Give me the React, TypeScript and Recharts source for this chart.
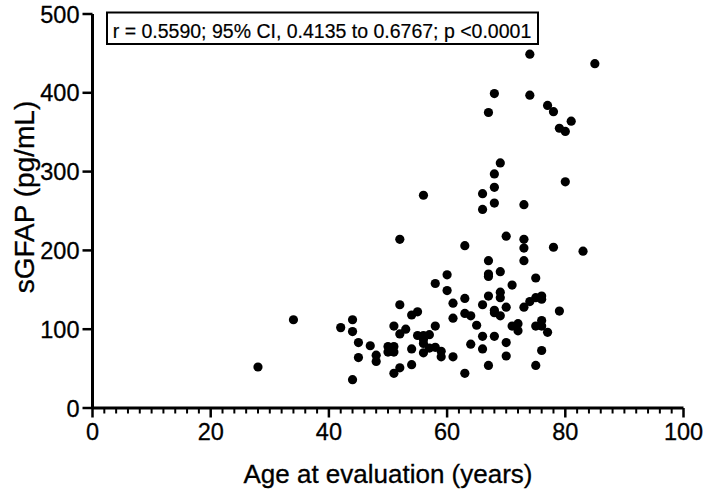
import React from 'react';
import { ScatterChart, Scatter, XAxis, YAxis } from 'recharts';

const ages: number[] = [
  28, 34, 42, 44, 44, 44, 45, 45, 47, 48, 48, 50, 50, 51, 51, 51, 51,
  52, 52, 52, 52, 53, 54, 54, 54, 55, 55, 56, 56, 56, 56, 56, 57, 57,
  58, 58, 58, 59, 59, 60, 60, 61, 61, 61, 63, 63, 63, 63, 64, 64, 65,
  66, 66, 66, 66, 66, 67, 67, 67, 67, 67, 67, 68, 68, 68, 68, 68, 68, 68,
  69, 69, 69, 69, 69, 70, 70, 70, 70, 71, 71, 72, 72, 73, 73, 73, 73, 73,
  74, 74, 74, 75, 75, 75, 75, 76, 76, 76, 76, 76, 77, 77, 78, 78, 79, 79,
  80, 80, 81, 83, 85,
];

const sgfap: number[] = [
  52, 112, 102, 112, 97, 36, 83, 64, 79, 67, 59, 78, 71, 78, 71, 104, 44,
  131, 214, 94, 51, 100, 118, 75, 55, 122, 92, 92, 87, 82, 70, 270, 93, 76,
  158, 104, 77, 72, 65, 169, 149, 133, 114, 65, 206, 139, 120, 44, 117, 81, 105,
  272, 252, 131, 91, 75, 375, 187, 170, 167, 142, 54, 399, 297, 280, 260, 124, 121, 91,
  311, 173, 147, 140, 117, 218, 128, 83, 66, 156, 104, 107, 98, 258, 214, 203, 187, 128,
  449, 397, 135, 165, 140, 104, 54, 142, 138, 111, 104, 73, 384, 96, 376, 204, 355, 123,
  351, 287, 364, 199, 437,
];

const xTicks: number[] = Array.from({ length: 51 }, (_, i) => i * 2);
const yTicks: number[] = [0, 100, 200, 300, 400, 500];

const xLabel = 'Age at evaluation (years)';
const yLabel = 'sGFAP (pg/mL)';
const statText = 'r = 0.5590; 95% CI, 0.4135 to 0.6767; p <0.0001';

const data = ages.map((a, i) => ({ age: a, val: sgfap[i] }));

const FONT = '"Liberation Sans", Arial, Helvetica, sans-serif';
const TICK_FS = 23.5;
const TITLE_FS = 26;
const YTITLE_FS = 28;

const XTick = (props: any) => {
  const { x, y, payload } = props;
  const v = payload.value as number;
  const major = v % 20 === 0;
  return (
    <g>
      <line x1={x} x2={x} y1={y} y2={y + (major ? 9.5 : 5.5)} stroke="#000" strokeWidth={major ? 2.5 : 2} />
      {major && (
        <text x={x} y={y + 32} textAnchor="middle" fontFamily={FONT} fontSize={TICK_FS} fill="#000" stroke="#000" strokeWidth={0.3}>
          {v}
        </text>
      )}
    </g>
  );
};

const YTick = (props: any) => {
  const { x, y, payload } = props;
  return (
    <g>
      <line x1={x - 10} x2={x} y1={y} y2={y} stroke="#000" strokeWidth={2.5} />
      <text x={x - 13} y={y + 8.5} textAnchor="end" fontFamily={FONT} fontSize={TICK_FS} fill="#000" stroke="#000" strokeWidth={0.3}>
        {payload.value}
      </text>
    </g>
  );
};

const Dot = (props: any) => <circle cx={props.cx} cy={props.cy} r={4.6} fill="#000" />;

export default function App() {
  return (
    <div style={{ position: 'absolute', left: 0, top: 0, width: 709, height: 492, background: '#fff' }}>
      <ScatterChart width={709} height={492} margin={{ top: 14, right: 25.5, bottom: 0, left: 0 }}>
        <XAxis
          type="number"
          dataKey="age"
          domain={[0, 100]}
          ticks={xTicks}
          interval={0}
          tickSize={0}
          tickMargin={0}
          tick={<XTick />}
          axisLine={{ stroke: '#000', strokeWidth: 3 }}
          tickLine={false}
          height={84}
          label={{
            content: (p: any) => {
              const vb = p.viewBox || { x: 92.5, width: 591 };
              return (
                <text x={vb.x + vb.width / 2} y={483} textAnchor="middle" fontFamily={FONT} fontSize={TITLE_FS} fill="#000" stroke="#000" strokeWidth={0.3}>
                  {xLabel}
                </text>
              );
            },
          }}
        />
        <YAxis
          type="number"
          dataKey="val"
          domain={[0, 500]}
          ticks={yTicks}
          interval={0}
          tickSize={0}
          tickMargin={0}
          tick={<YTick />}
          axisLine={{ stroke: '#000', strokeWidth: 3 }}
          tickLine={false}
          width={92.5}
          label={{
            content: () => (
              <text
                x={34}
                y={197}
                transform="rotate(-90 34 197)"
                textAnchor="middle"
                fontFamily={FONT}
                fontSize={YTITLE_FS}
                fill="#000"
                stroke="#000"
                strokeWidth={0.3}
              >
                {yLabel}
              </text>
            ),
          }}
        />
        <Scatter data={data} shape={<Dot />} isAnimationActive={false} />
        <g>
          <rect x={107} y={12.5} width={431} height={31.5} fill="#fff" stroke="#000" strokeWidth={2} />
          <text x={322} y={38} textAnchor="middle" fontFamily={FONT} fontSize={19.5} fill="#000" stroke="#000" strokeWidth={0.2}>
            {statText}
          </text>
        </g>
      </ScatterChart>
    </div>
  );
}
